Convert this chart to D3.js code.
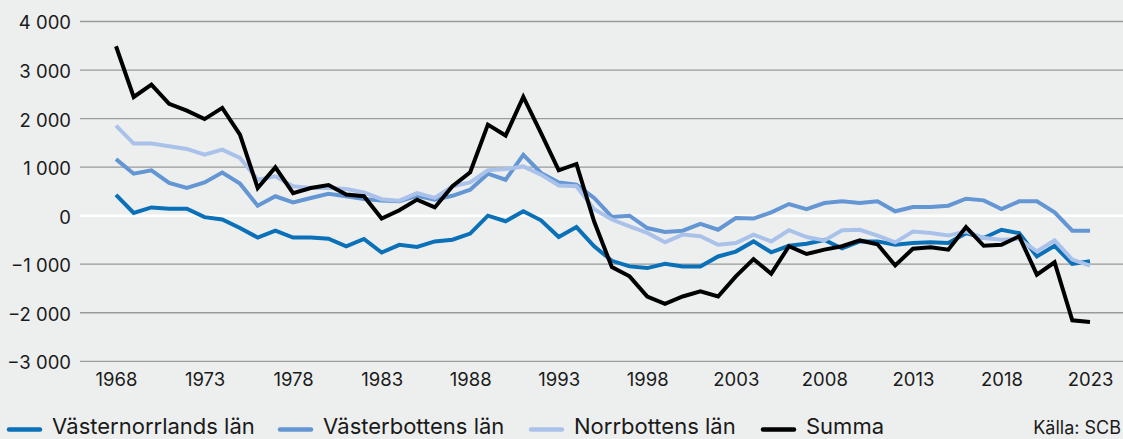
<!DOCTYPE html>
<html>
<head>
<meta charset="utf-8">
<script src="https://cdn.jsdelivr.net/npm/d3@7"></script>
<style>
  body { margin: 0; background: #edefef; }
  svg { display: block; font-family: Inter, "Noto Sans", sans-serif; }
</style>
</head>
<body>
<svg width="1123" height="439"></svg>
<script>
// Years and series
var years = d3.range(1968, 2024);
var tickYears = [1968, 1973, 1978, 1983, 1988, 1993, 1998, 2003, 2008, 2013, 2018, 2023];
var yTicks = [4000, 3000, 2000, 1000, 0, -1000, -2000, -3000];

var vasternorrland = [430, 55, 170, 145, 145, -30, -80, -255, -450, -310, -450, -450, -475, -630, -480,
  -760, -600, -645, -530, -495, -370, 0, -115, 90, -95, -440, -235, -630, -930, -1045,
  -1080, -990, -1045, -1045, -840, -740, -530, -755, -620, -580, -500, -675, -530, -530,
  -600, -565, -550, -565, -360, -460, -290, -360, -840, -620, -995, -940];
var vasterbotten = [1165, 865, 935, 675, 570, 685, 890, 660, 205, 400, 275, 365, 450, 400, 345,
  310, 295, 410, 330, 410, 535, 865, 740, 1255, 880, 685, 640, 365, -25, 0,
  -255, -335, -310, -170, -290, -50, -60, 70, 240, 135, 260, 295, 260, 295,
  90, 180, 180, 205, 350, 315, 135, 295, 295, 70, -310, -310];
var norrbotten = [1855, 1485, 1485, 1430, 1375, 1255, 1360, 1190, 740, 810, 605, 570, 570, 550, 480,
  340, 310, 465, 365, 605, 685, 935, 960, 1015, 845, 620, 605, 135, -80, -220,
  -355, -550, -390, -425, -600, -565, -390, -530, -300, -440, -510, -300, -290, -410,
  -550, -325, -355, -410, -325, -460, -495, -480, -735, -510, -905, -1030];
var summa = [3490, 2445, 2700, 2305, 2165, 1990, 2220, 1670, 570, 995, 465, 570, 630, 435, 400,
  -60, 110, 330, 170, 605, 895, 1875, 1650, 2445, 1700, 935, 1065, -120, -1060, -1250,
  -1665, -1815, -1665, -1560, -1665, -1250, -895, -1195, -630, -790, -700, -630, -510, -590,
  -1025, -680, -650, -700, -235, -620, -600, -425, -1215, -960, -2155, -2190];

var seriesNames = ["Västernorrlands län", "Västerbottens län", "Norrbottens län", "Summa"];
var seriesValues = [vasternorrland, vasterbotten, norrbotten, summa];
var colors = ["#0a70b8", "#6496d4", "#aac2ea", "#000000"];

var svg = d3.select("svg"),
  width = +svg.attr("width"),
  height = +svg.attr("height");

var x = d3.scaleLinear().domain([1968, 2023]).range([116, 1090]);
var y = d3.scaleLinear().domain([-3000, 4000]).range([361.3, 21.5]);

var fmt = function(d) {
  // space as thousands separator, real minus sign
  return d3.format(",")(Math.abs(d)).replace(/,/g, " ").replace(/^/, d < 0 ? "\u2212" : "");
};

// Gridlines
svg.append("g")
  .selectAll("line")
  .data(yTicks)
  .enter()
  .append("line")
  .attr("x1", 80)
  .attr("x2", width)
  .attr("y1", function(d) { return y(d); })
  .attr("y2", function(d) { return y(d); })
  .attr("stroke", function(d) { return d === 0 ? "#ffffff" : "#9a9a9a"; })
  .attr("stroke-width", function(d) { return d === 0 ? 2.5 : 1.3; });

// Y axis labels
var yAxis = d3.axisLeft(y).tickValues(yTicks).tickFormat(fmt).tickSize(0).tickPadding(0);
svg.append("g")
  .attr("transform", "translate(71,1.5)")
  .call(yAxis)
  .call(function(g) { g.select(".domain").remove(); })
  .selectAll("text")
  .attr("font-size", "18.5px")
  .attr("font-family", "Inter, sans-serif")
  .attr("fill", "#1a1a1a");

// X axis labels
var xAxis = d3.axisBottom(x).tickValues(tickYears).tickFormat(d3.format("d")).tickSize(0).tickPadding(0);
svg.append("g")
  .attr("transform", "translate(0,373)")
  .call(xAxis)
  .call(function(g) { g.select(".domain").remove(); })
  .selectAll("text")
  .attr("font-size", "18.5px")
  .attr("font-family", "Inter, sans-serif")
  .attr("fill", "#1a1a1a");

// Lines
var line = d3.line()
  .x(function(d, i) { return x(years[i]); })
  .y(function(d) { return y(d); });

svg.append("g")
  .selectAll("path")
  .data(seriesValues)
  .enter()
  .append("path")
  .attr("d", line)
  .attr("fill", "none")
  .attr("stroke", function(d, i) { return colors[i]; })
  .attr("stroke-width", 4)
  .attr("stroke-linejoin", "miter")
  .attr("stroke-linecap", "butt");

// Legend
var legendX = [9, 280, 531, 763];
var legend = svg.append("g")
  .selectAll("g")
  .data(seriesNames)
  .enter()
  .append("g")
  .attr("transform", function(d, i) { return "translate(" + legendX[i] + ",429.5)"; });

legend.append("line")
  .attr("x1", 0)
  .attr("x2", 31)
  .attr("stroke", function(d, i) { return colors[i]; })
  .attr("stroke-width", 4.5)
  .attr("stroke-linecap", "round");

legend.append("text")
  .attr("x", 43)
  .attr("y", 4.5)
  .attr("font-size", "22px")
  .attr("fill", "#1a1a1a")
  .text(function(d) { return d; });

svg.append("text")
  .attr("x", 1121)
  .attr("y", 434)
  .attr("text-anchor", "end")
  .attr("font-size", "18px")
  .attr("fill", "#1a1a1a")
  .text("Källa: SCB");
</script>
</body>
</html>
